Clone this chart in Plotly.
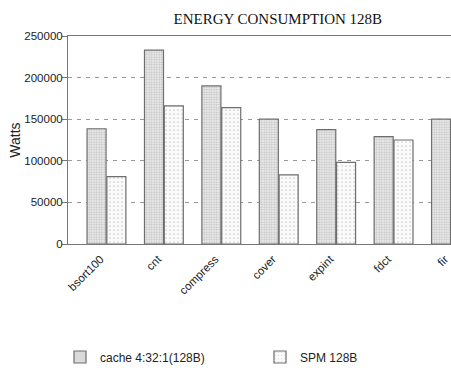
import plotly.graph_objects as go

categories = ["bsort100", "cnt", "compress", "cover", "expint", "fdct", "fir"]
cache_vals = [138500, 233000, 190000, 150000, 137500, 129000, 150000]
spm_vals = [81000, 166000, 164000, 83000, 98000, 125000, None]
series_names = ["cache 4:32:1(128B)", "SPM 128B"]
y_ticks = [0, 50000, 100000, 150000, 200000, 250000]

fig = go.Figure()
fig.add_trace(go.Bar(
    x=categories, y=cache_vals, name=series_names[0],
    marker=dict(color="#e6e6e6", line=dict(color="#6e6e6e", width=1.2),
                pattern=dict(shape=".", fgcolor="#8c8c8c", bgcolor="#ececec",
                             size=2.5, solidity=0.4)),
))
fig.add_trace(go.Bar(
    x=categories, y=spm_vals, name=series_names[1],
    marker=dict(color="#ffffff", line=dict(color="#6e6e6e", width=1.2),
                pattern=dict(shape=".", fgcolor="#a0a0a0", bgcolor="#fbfbfb",
                             size=4, solidity=0.15)),
))

font_sans = "Liberation Sans, Arial, sans-serif"
fig.update_layout(
    width=451, height=372,
    margin=dict(l=68, r=0, t=36, b=128, autoexpand=False),
    paper_bgcolor="white", plot_bgcolor="white",
    barmode="group", bargap=0.31, bargroupgap=0.04,
    font=dict(family=font_sans, size=11, color="#222222"),
    title=dict(text="ENERGY CONSUMPTION 128B", x=0.616, xanchor="center",
               y=1 - 19 / 372, yanchor="middle",
               font=dict(family="Liberation Serif, Times New Roman, serif", size=15, color="#111111")),
    legend=dict(orientation="h", x=-8 / 383, xanchor="left",
                y=(244 - 357) / 208, yanchor="middle",
                entrywidth=155, entrywidthmode="pixels",
                font=dict(family=font_sans, size=12, color="#222222"),
                bgcolor="rgba(0,0,0,0)"),
    showlegend=True,
)
fig.update_xaxes(
    range=[-0.67, 6.0], tickangle=-45, showgrid=False,
    showline=True, linecolor="#777777", linewidth=1, mirror=True,
    ticks="", tickfont=dict(size=11.5), ticklabelshift=-6, ticklabelstandoff=3,
)
fig.update_yaxes(
    range=[0, 250000], tickvals=y_ticks, ticktext=[str(v) for v in y_ticks],
    showline=True, linecolor="#777777", linewidth=1, mirror=False,
    ticks="outside", ticklen=5, tickcolor="#777777", ticklabelstandoff=-3,
    showgrid=True, gridcolor="#9a9a9a", griddash="4px,5px", gridwidth=1,
    zeroline=False,
    title=dict(text="Watts", font=dict(size=14), standoff=0),
    tickfont=dict(size=11.5),
)

fig.write_html("out.html")
